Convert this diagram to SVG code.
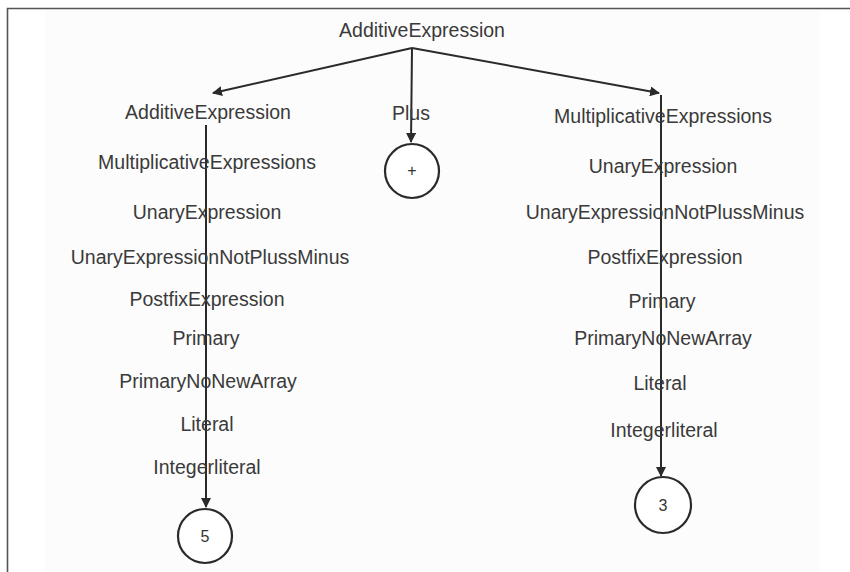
<svg xmlns="http://www.w3.org/2000/svg" width="850" height="572" viewBox="0 0 850 572">
  <style>
    .lbl { font-family: "Liberation Sans", Arial, sans-serif; font-size: 19.5px; fill: #3a3a3a; text-anchor: middle; dominant-baseline: central; }
    .val { font-family: "Liberation Sans", Arial, sans-serif; font-size: 16px; fill: #333; text-anchor: middle; dominant-baseline: central; }
    .edge { stroke: #2a2a2a; stroke-width: 2; fill: none; }
    .leaf { stroke: #2a2a2a; stroke-width: 2.2; fill: #fff; }
    .frame { stroke: #555; stroke-width: 1.6; fill: none; }
  </style>
  <defs>
    <marker id="arrow" viewBox="0 0 10 10" refX="9" refY="5" markerWidth="5" markerHeight="5" orient="auto" markerUnits="strokeWidth">
      <path d="M0,0 L10,5 L0,10 z" fill="#2a2a2a"/>
    </marker>
  </defs>

  <!-- page background and frame -->
  <rect x="0" y="0" width="850" height="572" fill="#ffffff"/>
  <rect x="45" y="9" width="775" height="563" fill="#fcfcfc"/>
  <path class="frame" d="M7.5,572 V8.5 H850"/>

  <!-- connectors -->
  <g id="connectors">
    <line class="edge" x1="412" y1="48" x2="213" y2="93" marker-end="url(#arrow)"/>
    <line class="edge" x1="412" y1="48" x2="411" y2="142" marker-end="url(#arrow)"/>
    <line class="edge" x1="412" y1="48" x2="659" y2="93" marker-end="url(#arrow)"/>
    <line class="edge" x1="206" y1="125" x2="206" y2="507" marker-end="url(#arrow)"/>
    <line class="edge" x1="661" y1="95" x2="661" y2="476" marker-end="url(#arrow)"/>
  </g>

  <!-- root -->
  <g id="root">
    <text class="lbl" x="422" y="30">AdditiveExpression</text>
  </g>

  <!-- left operand chain -->
  <g id="left-chain">
    <text class="lbl" x="208" y="112">AdditiveExpression</text>
    <text class="lbl" x="207" y="162">MultiplicativeExpressions</text>
    <text class="lbl" x="207" y="212">UnaryExpression</text>
    <text class="lbl" x="210" y="257">UnaryExpressionNotPlussMinus</text>
    <text class="lbl" x="207" y="299">PostfixExpression</text>
    <text class="lbl" x="206" y="338">Primary</text>
    <text class="lbl" x="208" y="381">PrimaryNoNewArray</text>
    <text class="lbl" x="207" y="424">Literal</text>
    <text class="lbl" x="207" y="467">Integerliteral</text>
  </g>
  <g id="leaf-5">
    <circle class="leaf" cx="205" cy="536" r="27"/>
    <text class="val" x="205" y="536">5</text>
  </g>

  <!-- operator -->
  <g id="plus">
    <text class="lbl" x="411" y="113">Plus</text>
  </g>
  <g id="leaf-plus">
    <circle class="leaf" cx="412" cy="171" r="27"/>
    <text class="val" x="412" y="170">+</text>
  </g>

  <!-- right operand chain -->
  <g id="right-chain">
    <text class="lbl" x="663" y="116">MultiplicativeExpressions</text>
    <text class="lbl" x="663" y="166">UnaryExpression</text>
    <text class="lbl" x="665" y="212">UnaryExpressionNotPlussMinus</text>
    <text class="lbl" x="665" y="257">PostfixExpression</text>
    <text class="lbl" x="662" y="301">Primary</text>
    <text class="lbl" x="663" y="338">PrimaryNoNewArray</text>
    <text class="lbl" x="660" y="383">Literal</text>
    <text class="lbl" x="664" y="430">Integerliteral</text>
  </g>
  <g id="leaf-3">
    <circle class="leaf" cx="663" cy="505" r="28"/>
    <text class="val" x="663" y="505">3</text>
  </g>
</svg>
